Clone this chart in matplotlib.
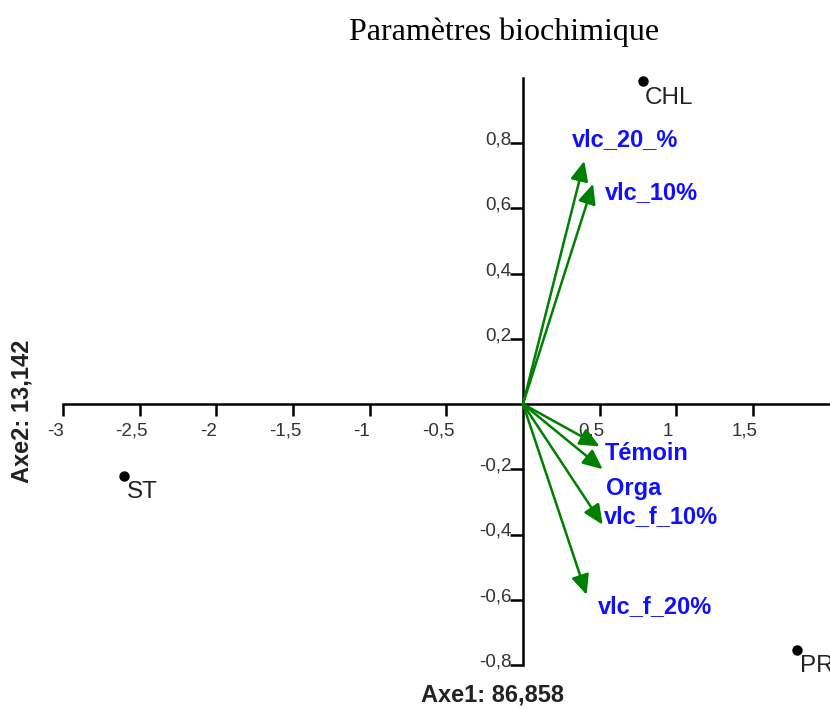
import matplotlib
matplotlib.use("Agg")
import matplotlib.pyplot as plt
import matplotlib.transforms as mtransforms
import numpy as np

# ---- data ----
point_names = ["CHL", "ST", "PR"]
point_x = [0.78, -2.60, 1.79]
point_y = [0.99, -0.22, -0.753]

var_names = ["vlc_20_%", "vlc_10%", "Témoin", "Orga", "vlc_f_10%", "vlc_f_20%"]
var_x = [0.40, 0.457, 0.50, 0.52, 0.52, 0.415]
var_y = [0.745, 0.675, -0.13, -0.20, -0.37, -0.585]
label_x = [0.32, 0.535, 0.535, 0.541, 0.528, 0.489]
label_y = [0.81, 0.647, -0.153, -0.26, -0.346, -0.62]

xticks = [-3, -2.5, -2, -1.5, -1, -0.5, 0.5, 1, 1.5]
yticks = [-0.8, -0.6, -0.4, -0.2, 0.2, 0.4, 0.6, 0.8]

title = "Paramètres biochimique"
xlabel = "Axe1: 86,858"
ylabel = "Axe2: 13,142"

# ---- figure ----
W, H = 830, 709
fig = plt.figure(figsize=(W / 100, H / 100), dpi=100)
ax = fig.add_axes([0, 0, 1, 1])
ax.patch.set_alpha(0)

x0, sx = 523, 153.3
y0, sy = 404, 326.25
ax.set_xlim((0 - x0) / sx, (W - x0) / sx)
ax.set_ylim((y0 - H) / sy, y0 / sy)

for s in ["top", "right"]:
    ax.spines[s].set_visible(False)
ax.spines["left"].set_position(("data", 0))
ax.spines["bottom"].set_position(("data", 0))
ax.spines["left"].set_bounds(-0.8, 1.0)
ax.spines["bottom"].set_bounds(-3, (W - x0) / sx)
for s in ["left", "bottom"]:
    ax.spines[s].set_linewidth(1.8)
    ax.spines[s].set_color("black")

ax.set_xticks(xticks)
ax.set_yticks(yticks)
fmt = lambda v: ("%g" % v).replace(".", ",")
ax.set_xticklabels([fmt(v) for v in xticks])
ax.set_yticklabels([fmt(v) for v in yticks])
ax.tick_params(axis="x", direction="out", length=8.5, width=1.8, pad=5,
               labelsize=13.5, labelcolor="#333333")
ax.tick_params(axis="y", direction="out", length=9.5, width=1.8, pad=-1,
               labelsize=13.5, labelcolor="#333333")
xoff = mtransforms.ScaledTranslation(-8 / 100, 0, fig.dpi_scale_trans)
yoff = mtransforms.ScaledTranslation(0, 5 / 100, fig.dpi_scale_trans)
for t in ax.get_xticklabels():
    t.set_fontfamily("Liberation Sans")
    t.set_transform(t.get_transform() + xoff)
for t in ax.get_yticklabels():
    t.set_fontfamily("Liberation Sans")
    t.set_transform(t.get_transform() + yoff)

# arrows
for name, tx, ty, lx, ly in zip(var_names, var_x, var_y, label_x, label_y):
    ax.annotate("", xy=(tx, ty), xytext=(0, 0),
                arrowprops=dict(arrowstyle="-|>,head_length=0.6,head_width=0.27",
                                mutation_scale=20, lw=1.8, color="#008000",
                                shrinkA=0, shrinkB=0))
    ax.text(lx, ly, name, color="#1010ff", fontsize=17, fontweight="bold",
            family="Liberation Sans", ha="left", va="center")

# points
ax.plot(point_x, point_y, "o", color="black", ms=6.5, clip_on=False)
for name, px, py in zip(point_names, point_x, point_y):
    ax.annotate(name, xy=(px, py), xytext=(1.8, -12), textcoords="offset points",
                ha="left", va="center", fontsize=17.5, family="Liberation Sans",
                color="#222222")

fig.text(504 / W, 1 - 32 / H, title, ha="center", va="center",
         family="Liberation Serif", fontsize=23, color="black")
fig.text(492 / W, 1 - 695 / H, xlabel, ha="center", va="center",
         family="Liberation Sans", fontsize=17, fontweight="bold", color="#222222")
fig.text(22 / W, 1 - 411 / H, ylabel, ha="center", va="center", rotation=90,
         family="Liberation Sans", fontsize=17, fontweight="bold", color="#222222")

fig.savefig("out.png", dpi=100)
